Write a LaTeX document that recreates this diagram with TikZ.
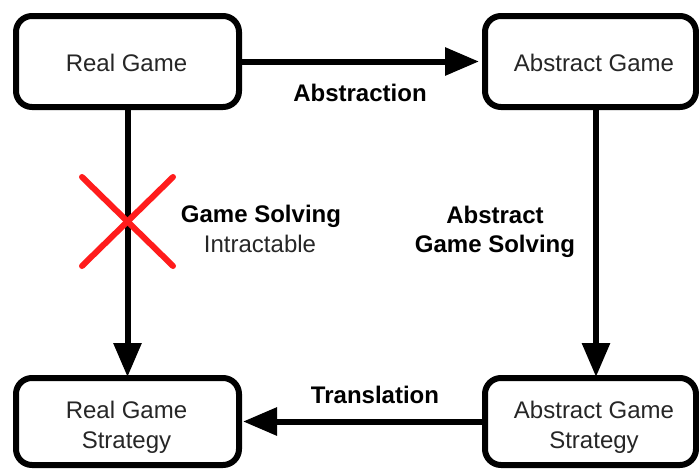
\documentclass[tikz,border=0pt]{standalone}
\usepackage{fontspec}
\setmainfont{Liberation Sans}
\usetikzlibrary{arrows.meta}
\begin{document}
\begin{tikzpicture}[x=1pt,y=-1pt,
  box/.style={draw=black, line width=6pt, rounded corners=16pt, fill=white,
    inner sep=0pt, minimum width=#1, minimum height=91pt},
  box/.default=223pt,
  txt/.style={anchor=base, inner sep=0pt, font=\fontsize{24}{29}\selectfont, text=black!85},
  btxt/.style={txt, font=\fontsize{24}{29}\selectfont\bfseries, text=black},
  conn/.style={line width=6pt, -{Triangle[length=34pt,width=27pt]}},
  cross/.style={draw={rgb,255:red,255;green,28;blue,28}, line width=6pt, line cap=round}]
\useasboundingbox (0,0) rectangle (699,469);
\clip (0,0) rectangle (699,469);
% boxes
\node[box] (rg) at (127.5,61.5) {};
\node[box=211pt] (ag) at (590.5,61.5) {};
\node[box, minimum height=87pt] (rgs) at (127.5,421.5) {};
\node[box=211pt, minimum height=87pt] (ags) at (590.5,421.5) {};
% box texts
\node[txt] (t1) at (126.5,71) {Real Game};
\node[txt] (t2) at (594,71) {Abstract Game};
\node[txt] (t3a) at (126.5,418) {Real Game};
\node[txt] (t3b) at (126.5,448) {Strategy};
\node[txt] (t4a) at (594,418) {Abstract Game};
\node[txt] (t4b) at (594,448) {Strategy};
% connectors
\draw[conn] (rg.east) -- ([xshift=-3pt]ag.west);
\draw[conn] (rg.south) -- ([yshift=-2pt]rgs.north);
\draw[conn] ([xshift=5.5pt]ag.south) -- ([xshift=5.5pt,yshift=-2pt]ags.north);
\draw[conn] (ags.west) -- ([xshift=1pt]rgs.east);
% labels
\node[btxt] (l1) at (360,101.5) {Abstraction};
\node[btxt] (l2) at (261,222) {Game Solving};
\node[txt] (l3) at (260,252) {Intractable};
\node[btxt] (l4) at (495,223) {Abstract};
\node[btxt] (l5) at (495,252) {Game Solving};
\node[btxt] (l6) at (375,403) {Translation};
% red cross
\coordinate (xa) at (82,177);
\coordinate (xb) at (173,266);
\coordinate (xc) at (173,177);
\coordinate (xd) at (82,266);
\draw[cross] (xa) -- (xb);
\draw[cross] (xc) -- (xd);
\end{tikzpicture}
\end{document}
